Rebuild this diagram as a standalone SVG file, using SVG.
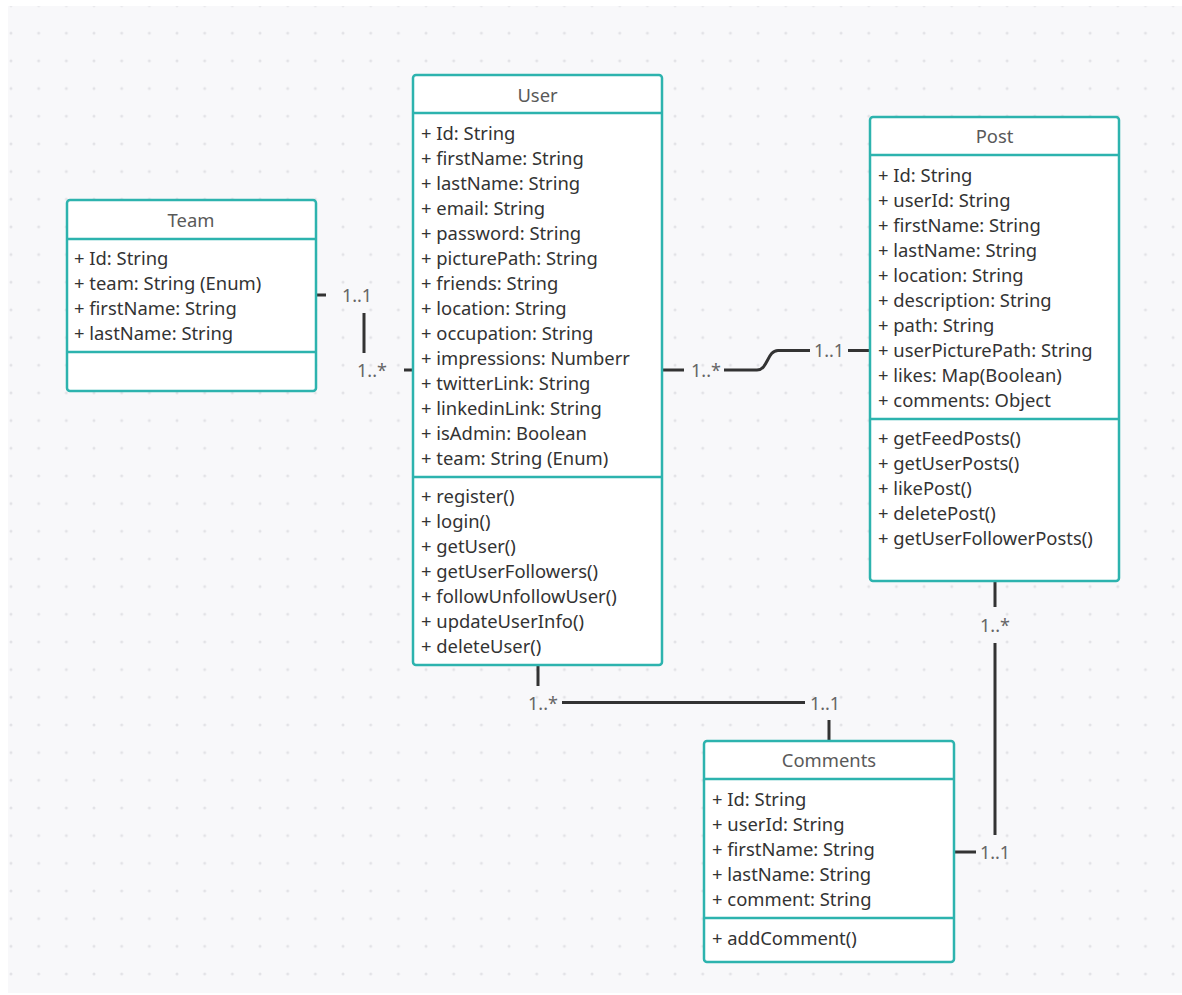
<svg xmlns="http://www.w3.org/2000/svg" width="1182" height="995" viewBox="0 0 1182 995">
<defs>
<pattern id="dots" x="11" y="5.5" width="27.67" height="27.67" patternUnits="userSpaceOnUse">
<circle cx="0" cy="0" r="1.5" fill="#e2e2e6"/>
<circle cx="27.67" cy="0" r="1.5" fill="#e2e2e6"/>
<circle cx="0" cy="27.67" r="1.5" fill="#e2e2e6"/>
<circle cx="27.67" cy="27.67" r="1.5" fill="#e2e2e6"/>
</pattern>
</defs>
<style>
.box{fill:#ffffff;stroke:#2db3ae;stroke-width:2.5}
.div{stroke:#2db3ae;stroke-width:2.5}
.title{font-family:"Noto Sans","Open Sans",sans-serif;font-size:18.4px;fill:#595959;text-anchor:middle}
.t{font-family:"Noto Sans","Open Sans",sans-serif;font-size:18.4px;fill:#333333}
.c{stroke:#333333;stroke-width:3;fill:none}
.lbl{font-family:"Noto Sans","Open Sans",sans-serif;font-size:18px;fill:#666666;text-anchor:middle}
</style>
<rect x="0" y="0" width="1182" height="995" fill="#ffffff"/>
<rect x="8" y="6" width="1174" height="987" fill="#f8f8fa"/>
<rect x="8" y="6" width="1174" height="987" fill="url(#dots)"/>

<g id="connectors">
<line class="c" x1="316" y1="295" x2="326" y2="295"/>
<line class="c" x1="364" y1="313" x2="364" y2="353"/>
<line class="c" x1="404" y1="370" x2="413" y2="370"/>
<text class="lbl" x="357" y="302">1..1</text>
<text class="lbl" x="372" y="377">1..*</text>

<line class="c" x1="662" y1="370" x2="684" y2="370"/>
<path class="c" d="M724,370 H757 C768,370 767,350.5 778,350.5 H810"/>
<line class="c" x1="848" y1="350.5" x2="870" y2="350.5"/>
<text class="lbl" x="706" y="377">1..*</text>
<text class="lbl" x="829" y="357">1..1</text>

<line class="c" x1="538" y1="665" x2="538" y2="686"/>
<line class="c" x1="562" y1="702.5" x2="805" y2="702.5"/>
<line class="c" x1="829" y1="720" x2="829" y2="740"/>
<text class="lbl" x="543" y="709.5">1..*</text>
<text class="lbl" x="825" y="709.5">1..1</text>

<line class="c" x1="995" y1="581" x2="995" y2="607"/>
<line class="c" x1="995" y1="643" x2="995" y2="835"/>
<line class="c" x1="954" y1="852" x2="976" y2="852"/>
<text class="lbl" x="995" y="632">1..*</text>
<text class="lbl" x="995" y="859">1..1</text>
</g>

<g id="team">
<rect class="box" x="67" y="200" width="249" height="191" rx="3"/>
<line class="div" x1="67" y1="239" x2="316" y2="239"/>
<line class="div" x1="67" y1="352" x2="316" y2="352"/>
<text class="title" x="191" y="226.5">Team</text>
<text class="t" x="74" y="264.5">+ Id: String</text>
<text class="t" x="74" y="289.5">+ team: String (Enum)</text>
<text class="t" x="74" y="314.5">+ firstName: String</text>
<text class="t" x="74" y="339.5">+ lastName: String</text>
</g>

<g id="user">
<rect class="box" x="413" y="75" width="249" height="590" rx="3"/>
<line class="div" x1="413" y1="113" x2="662" y2="113"/>
<line class="div" x1="413" y1="477" x2="662" y2="477"/>
<text class="title" x="537.5" y="101.5">User</text>
<text class="t" x="421" y="139.5">+ Id: String</text>
<text class="t" x="421" y="164.5">+ firstName: String</text>
<text class="t" x="421" y="189.5">+ lastName: String</text>
<text class="t" x="421" y="214.5">+ email: String</text>
<text class="t" x="421" y="239.5">+ password: String</text>
<text class="t" x="421" y="264.5">+ picturePath: String</text>
<text class="t" x="421" y="289.5">+ friends: String</text>
<text class="t" x="421" y="314.5">+ location: String</text>
<text class="t" x="421" y="339.5">+ occupation: String</text>
<text class="t" x="421" y="364.5">+ impressions: Numberr</text>
<text class="t" x="421" y="389.5">+ twitterLink: String</text>
<text class="t" x="421" y="414.5">+ linkedinLink: String</text>
<text class="t" x="421" y="439.5">+ isAdmin: Boolean</text>
<text class="t" x="421" y="464.5">+ team: String (Enum)</text>
<text class="t" x="421" y="502.5">+ register()</text>
<text class="t" x="421" y="527.5">+ login()</text>
<text class="t" x="421" y="552.5">+ getUser()</text>
<text class="t" x="421" y="577.5">+ getUserFollowers()</text>
<text class="t" x="421" y="602.5">+ followUnfollowUser()</text>
<text class="t" x="421" y="627.5">+ updateUserInfo()</text>
<text class="t" x="421" y="652.5">+ deleteUser()</text>
</g>

<g id="post">
<rect class="box" x="870" y="117" width="249" height="464" rx="3"/>
<line class="div" x1="870" y1="155" x2="1119" y2="155"/>
<line class="div" x1="870" y1="419" x2="1119" y2="419"/>
<text class="title" x="994.5" y="142.5">Post</text>
<text class="t" x="878" y="181.5">+ Id: String</text>
<text class="t" x="878" y="206.5">+ userId: String</text>
<text class="t" x="878" y="231.5">+ firstName: String</text>
<text class="t" x="878" y="256.5">+ lastName: String</text>
<text class="t" x="878" y="281.5">+ location: String</text>
<text class="t" x="878" y="306.5">+ description: String</text>
<text class="t" x="878" y="331.5">+ path: String</text>
<text class="t" x="878" y="356.5">+ userPicturePath: String</text>
<text class="t" x="878" y="381.5">+ likes: Map(Boolean)</text>
<text class="t" x="878" y="406.5">+ comments: Object</text>
<text class="t" x="878" y="444.5">+ getFeedPosts()</text>
<text class="t" x="878" y="469.5">+ getUserPosts()</text>
<text class="t" x="878" y="494.5">+ likePost()</text>
<text class="t" x="878" y="519.5">+ deletePost()</text>
<text class="t" x="878" y="544.5">+ getUserFollowerPosts()</text>
</g>

<g id="comments">
<rect class="box" x="704" y="741" width="250" height="221" rx="3"/>
<line class="div" x1="704" y1="779" x2="954" y2="779"/>
<line class="div" x1="704" y1="918" x2="954" y2="918"/>
<text class="title" x="829" y="766.5">Comments</text>
<text class="t" x="712" y="805.5">+ Id: String</text>
<text class="t" x="712" y="830.5">+ userId: String</text>
<text class="t" x="712" y="855.5">+ firstName: String</text>
<text class="t" x="712" y="880.5">+ lastName: String</text>
<text class="t" x="712" y="905.5">+ comment: String</text>
<text class="t" x="712" y="944.5">+ addComment()</text>
</g>
</svg>
